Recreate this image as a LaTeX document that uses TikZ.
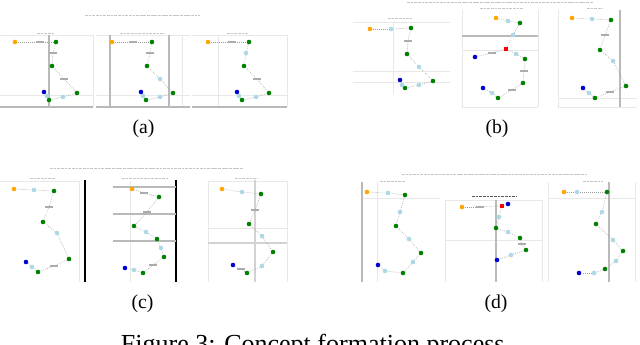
\documentclass[tikz,border=0pt]{standalone}
\usepackage{fontspec}
\setmainfont{Liberation Serif}
\usepackage{tikz}
\usetikzlibrary{arrows.meta,shapes,positioning}
\definecolor{plotorange}{RGB}{255,165,0}
\definecolor{plotlb}{RGB}{173,216,230}
\definecolor{plotgreen}{RGB}{0,128,0}
\definecolor{plotblue}{RGB}{0,0,210}

\tikzset{
    dot/.style={circle, inner sep=0pt, minimum size=1.15mm},
    og/.style={dot, fill=plotorange},
    lb/.style={dot, fill=plotlb},
    gr/.style={dot, fill=plotgreen},
    bl/.style={dot, fill=plotblue},
    rd/.style={rectangle, inner sep=0pt, minimum size=1.1mm, fill=red},
    tg/.style={rectangle, inner sep=0pt, minimum width=2.2mm, minimum height=0.3mm, fill=gray!65},
    link/.style={densely dotted, gray!75, line width=0.45pt},
    gridline/.style={gray!18, line width=0.3pt},
    axisline/.style={gray!55, line width=0.8pt},
    darkline/.style={black, line width=0.8pt},
    titlebar/.style={gray!45, line width=0.6pt, dash pattern=on 2pt off 0.6pt},
    sublabel/.style={font=\fontsize{14}{16}\selectfont, anchor=base}
}

\newcommand{\trail}[1]{%
    \foreach \px/\py/\pk [count=\i] in {#1}
        \node[\pk] (t\i) at (\px,\py) {};
    \foreach \px/\py/\pk [count=\i, remember=\i as \j (initially 0)] in {#1}
        {\ifnum\i>1 \draw[link] (t\j) -- (t\i);\fi}%
}

\begin{document}
\begin{tikzpicture}[x=0.25mm, y=-0.25mm]
                \fill[white] (0,0) rectangle (640,345);
                \useasboundingbox (0,0) rectangle (640,345);

                % (a)
                \draw[titlebar] (85,15) -- (200,15);
                \draw[titlebar] (37,33) -- (55,33);
                \draw[titlebar] (120,33) -- (165,33);
                \draw[titlebar] (227,33) -- (248,33);
                \draw[gridline] (0,35) -- (93,35) (0,95) -- (93,95) (93,35) -- (93,107);
                \draw[gridline] (96,35) -- (190,35) (96,95) -- (190,95) (182,35) -- (182,107);
                \draw[gridline] (192,35) -- (287,35) (192,95) -- (287,95) (218,35) -- (218,107) (287,35) -- (287,107);
                \draw[axisline] (0,107) -- (93,107) (49,35) -- (49,107);
                \draw[axisline] (96,107) -- (190,107) (110,35) -- (110,107) (169,35) -- (169,107);
                \draw[axisline] (192,107) -- (287,107);
                \trail{15/42/og, 40/42/tg, 56/42/gr, 53/53/tg, 52/66/gr, 64/79/tg, 77/93/gr, 63/97/lb, 49/100/gr, 47/96/lb, 44/92/bl}
                \trail{112/42/og, 133/42/tg, 152/42/gr, 150/53/tg, 147/66/gr, 160/79/lb, 173/93/gr, 160/97/lb, 146/100/gr, 143/96/lb, 141/92/bl}
                \trail{208/42/og, 232/42/tg, 249/42/gr, 246/53/lb, 244/66/gr, 257/79/tg, 269/93/gr, 256/97/lb, 242/100/gr, 239/96/lb, 237/92/bl}
                \node[sublabel] (capa) at (143.5,133.5) {(a)};

                % (b)
                \draw[titlebar] (407,2) -- (593,2);
                \draw[titlebar] (388,18) -- (412,18);
                \draw[titlebar] (480,8) -- (523,8);
                \draw[titlebar] (587,8) -- (603,8);
                \draw[gridline] (353,22) -- (450,22) (353,71) -- (450,71) (353,82) -- (450,82) (393,22) -- (393,95);
                \draw[gridline] (462,10) -- (462,107) (462,107) -- (538,107) (462,50) -- (538,50) (538,10) -- (538,107);
                \draw[gridline] (558,10) -- (558,107) (558,98) -- (637,98) (558,107) -- (637,107);
                \draw[axisline] (462,36) -- (538,36);
                \draw[axisline] (620,10) -- (620,107);
                \trail{370/29/og, 391/29/lb, 411/28/gr, 408/41/tg, 407/54/gr, 419/67/lb, 433/81/gr, 419/85/lb, 405/88/gr, 402/85/lb, 400/80/bl}
                \trail{475/57/bl, 492/53/tg, 506/49/rd, 513/35/lb, 520/23/gr, 508/21/lb, 496/18/og}
                \trail{506/49/rd, 516/54/lb, 525/59/gr, 524/71/tg, 523/83/gr, 512/90/tg, 498/98/gr, 492/93/lb, 483/88/bl}
                \trail{572/18/og, 592/19/lb, 611/20/gr, 605/35/tg, 600/50/gr, 613/61/lb, 626/86/gr, 610/92/tg, 595/98/gr, 589/93/lb, 583/88/bl}
                \node[sublabel] (capb) at (497,133.5) {(b)};

                % (c)
                \draw[titlebar] (50,168) -- (243,168);
                \draw[titlebar] (30,178) -- (55,178);
                \draw[titlebar] (122,178) -- (168,178);
                \draw[titlebar] (235,178) -- (257,178);
                \draw[gridline] (0,181) -- (79,181) (79,181) -- (79,282);
                \draw[gridline] (130,181) -- (130,282);
                \draw[gridline] (208,181) -- (287,181) (208,228) -- (287,228) (287,181) -- (287,282) (208,181) -- (208,282);
                \draw[darkline] (85,180) -- (85,282);
                \draw[darkline] (176,180) -- (176,282);
                \draw[axisline] (113,187) -- (176,187) (113,214) -- (176,214) (113,241) -- (176,241);
                \draw[gray!35, line width=1.3pt] (255,180) -- (255,282) (208,243) -- (287,243);
                \trail{14/189/og, 34/190/lb, 54/191/gr, 49/207/tg, 43/222/gr, 57/233/lb, 69/259/gr, 54/266/tg, 38/272/gr, 32/267/lb, 26/262/bl}
                \trail{132/189/og, 144/193/tg, 159/197/gr, 147/212/tg, 134/226/gr, 146/232/lb, 157/239/gr, 161/248/lb, 164/257/gr, 153/265/tg, 143/273/gr, 134/270/lb, 125/268/bl}
                \trail{222/189/og, 242/192/lb, 261/194/gr, 255/210/tg, 249/224/gr, 262/236/lb, 273/252/gr, 262/266/lb, 247/273/gr, 241/269/tg, 233/265/bl}
                \node[sublabel] (capc) at (142.5,308.5) {(c)};

                % (d)
                \draw[titlebar] (402,174) -- (587,174);
                \draw[titlebar] (380,181) -- (405,181);
                \draw[black!65, line width=0.7pt, dash pattern=on 2pt off 0.6pt] (472,196) -- (517,196);
                \draw[titlebar] (583,181) -- (603,181);
                \draw[gridline] (362,198) -- (440,198) (377,182) -- (377,282);
                \draw[gridline] (445,200) -- (542,200) (445,240) -- (542,240) (445,200) -- (445,282) (542,200) -- (542,282);
                \draw[gridline] (548,198) -- (635,198) (548,182) -- (548,282) (635,182) -- (635,282);
                \draw[axisline] (362,182) -- (362,282);
                \draw[axisline] (496,200) -- (496,282);
                \draw[axisline] (609,182) -- (609,282);
                \trail{367/192/og, 388/193/lb, 405/195/gr, 400/212/lb, 396/226/gr, 409/239/lb, 421/253/gr, 413/262/lb, 403/273/gr, 385/271/lb, 378/265/bl}
                \trail{462/207/og, 480/207/tg, 502/206/rd, 508/204/bl}
                \trail{502/206/rd, 499/217/lb, 496/228/gr, 508/232/lb, 520/238/gr, 522/244/tg, 526/250/gr, 511/255/lb, 497/260/bl}
                \trail{564/192/og, 577/192/lb, 607/192/gr, 602/212/lb, 596/224/gr, 613/240/lb, 623/251/gr, 616/261/lb, 605/269/gr, 594/273/lb, 579/273/bl}
                \node[sublabel] (capd) at (496,308.5) {(d)};

                \node[font=\fontsize{18.5}{22}\selectfont, anchor=base] (figcap) at (316,352) {Figure 3: Concept formation process.};
            \end{tikzpicture}
\end{document}
